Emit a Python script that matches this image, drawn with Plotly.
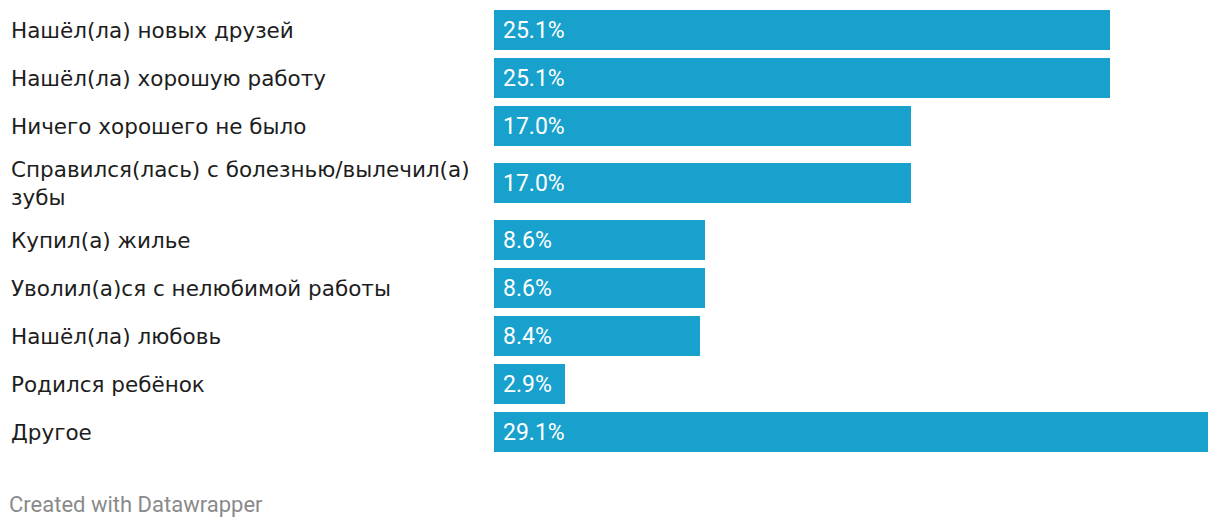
import plotly.graph_objects as go

categories = [
    "Нашёл(ла) новых друзей",
    "Нашёл(ла) хорошую работу",
    "Ничего хорошего не было",
    "Справился(лась) с болезнью/вылечил(а)<br>зубы",
    "Купил(а) жилье",
    "Уволил(а)ся с нелюбимой работы",
    "Нашёл(ла) любовь",
    "Родился ребёнок",
    "Другое",
]
values = [25.1, 25.1, 17.0, 17.0, 8.6, 8.6, 8.4, 2.9, 29.1]
value_labels = [f"{v:.1f}%" for v in values]

BAR_COLOR = "#18a1cd"
ROW = 48
EXTRA_LINE = 18
BAR_W = 40

# row centres (in pixel-like units) computed from label line counts
centers = []
acc = 0
for c in categories:
    h = ROW + (c.count("<br>")) * EXTRA_LINE
    centers.append(acc + h / 2)
    acc += h
total = acc

fig = go.Figure()
fig.add_trace(go.Bar(
    x=values, y=centers, orientation="h",
    width=BAR_W, marker=dict(color=BAR_COLOR, line=dict(width=0)),
    hoverinfo="skip",
))

annotations = []
for c, yc, lab in zip(categories, centers, value_labels):
    annotations.append(dict(
        x=0, xref="paper", xanchor="left", xshift=-485,
        y=yc, yref="y", yanchor="middle",
        text=c, align="left", showarrow=False,
        font=dict(family="DejaVu Sans", size=21.5, color="#1d1d1d"),
    ))
    annotations.append(dict(
        x=0, xref="x", xanchor="left", xshift=7,
        y=yc, yref="y", yanchor="middle",
        text=lab, showarrow=False,
        font=dict(family="Roboto", size=23, color="#ffffff"),
    ))
annotations.append(dict(
    x=0, xref="paper", xanchor="left", xshift=-487,
    y=0, yref="paper", yanchor="middle", yshift=-48,
    text="Created with Datawrapper", showarrow=False,
    font=dict(family="Roboto", size=22, color="#8a8a8a"),
))

fig.update_layout(
    width=1220, height=528,
    margin=dict(l=494, r=12, t=6, b=72),
    paper_bgcolor="white", plot_bgcolor="white",
    showlegend=False,
    xaxis=dict(range=[0, max(values)], visible=False, fixedrange=True),
    yaxis=dict(range=[total, 0], visible=False, fixedrange=True),
    annotations=annotations,
    bargap=0,
)

fig.write_html("out.html")
